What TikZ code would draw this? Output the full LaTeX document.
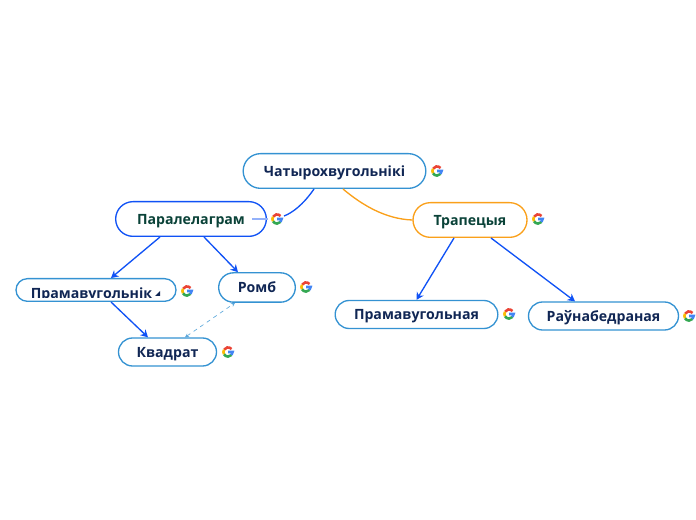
\documentclass[tikz,border=0pt]{standalone}
\usepackage{fontspec}
\setmainfont{Open Sans}
\usepackage{tikz}
\usetikzlibrary{positioning,arrows.meta,calc}
\definecolor{edgeblue}{RGB}{16,82,245}
\definecolor{boxblue}{RGB}{52,146,210}
\definecolor{orangeline}{RGB}{250,160,26}
\definecolor{darknavy}{RGB}{16,38,84}
\definecolor{darkgreen}{RGB}{10,66,56}
\definecolor{gred}{RGB}{234,67,53}
\definecolor{gyellow}{RGB}{251,188,5}
\definecolor{ggreen}{RGB}{52,168,83}
\definecolor{gblue}{RGB}{66,133,244}
\newcommand{\googleicon}[1]{%
  \begin{scope}[shift={(#1)},y=0.75pt,line width=1.9pt]
    \draw[gred] (40:4.6)  arc (40:150:4.6);
    \draw[gyellow] (150:4.6) arc (150:210:4.6);
    \draw[ggreen] (210:4.6) arc (210:320:4.6);
    \draw[gblue] (320:4.6) arc (320:360:4.6) -- (0.2,0);
  \end{scope}}

\begin{document}
\begin{tikzpicture}[x=0.75pt,y=-0.75pt,>=Latex,
    topic/.style={draw=boxblue,line width=1pt,fill=white,font=\fontsize{10.6}{12}\selectfont\bfseries,text=darknavy,inner sep=0pt,text height=7.6pt,text depth=0pt},
    link/.style={->,edgeblue,line width=1pt,>={Stealth[length=5.5pt,width=6pt]}}]
  \useasboundingbox (0,0) rectangle (696,520);
  \node[topic,rounded corners=13pt,minimum width=137pt,minimum height=26pt] (root) at (334.5,171) {Чатырохвугольнікі};
  \node[topic,rounded corners=13pt,draw=edgeblue,text=darkgreen,minimum width=113pt,minimum height=26pt] (para) at (191,219) {Паралелаграм};
  \node[topic,rounded corners=13pt,draw=orangeline,text=darkgreen,minimum width=85.5pt,minimum height=26pt] (trap) at (470,220) {Трапецыя};
  \node[topic,rounded corners=8.5pt,minimum width=120pt,minimum height=17pt] (rect) at (96,290) {};
  \begin{scope}
    \clip (20,280) rectangle (172,297.5);
    \node[font=\fontsize{10.6}{12}\selectfont\bfseries,text=darknavy,inner sep=0pt,text height=7.6pt,text depth=0pt] (recttext) at (91.5,293) {Прамавугольнік};
  \end{scope}
  \fill[darknavy] (155,296) -- (160,296) -- (160,291) -- cycle;
  \node[topic,rounded corners=11pt,minimum width=57.5pt,minimum height=22pt] (romb) at (257,287.5) {Ромб};
  \node[topic,rounded corners=10.5pt,minimum width=73.5pt,minimum height=21pt] (kvad) at (167.5,352) {Квадрат};
  \node[topic,rounded corners=10.5pt,minimum width=122pt,minimum height=21pt] (pramv) at (416.5,314.5) {Прамавугольная};
  \node[topic,rounded corners=10.5pt,minimum width=112.5pt,minimum height=21pt] (ravn) at (603.5,316) {Раўнабедраная};

  \coordinate (gpara) at (277,219);
  \draw[edgeblue,line width=1pt] ($(root.south)+(-20.5,0)$) .. controls +(-11,16) and +(8,-3) .. ($(gpara)+(7,-3)$);
  \draw[edgeblue!45,line width=0.8pt] ($(para.east)+(-15,0)$) -- ($(gpara)+(-9,0)$);
  \draw[orangeline,line width=1pt] ($(root.south)+(8.5,0)$) .. controls +(19,16) and +(-27,-1) .. (trap.west);
  \draw[link] ($(para.south)+(-31,0)$) -- ($(rect.north)+(15,0)$);
  \draw[link] ($(para.south)+(13,0)$) -- ($(romb.north)+(-19,0)$);
  \draw[link] ($(trap.south)+(-16,0)$) -- (pramv.north);
  \draw[link] ($(trap.south)+(21,0)$) -- ($(ravn.north)+(-28.5,0)$);
  \draw[link] ($(rect.south)+(15,0)$) -- ($(kvad.north)+(-19.5,0)$);
  \draw[boxblue!80,line width=0.5pt,dashed,<->,>={Stealth[length=3pt,width=3pt]}] ($(kvad.north)+(17.5,0)$) -- ($(romb.south)+(-22,0)$);

  \foreach \pos in {{437,171},{277,219},{538,219},{187,291},{306,287},{228,352},{509,314},{689,316}}{
    \googleicon{\pos}
  }
\end{tikzpicture}
\end{document}
